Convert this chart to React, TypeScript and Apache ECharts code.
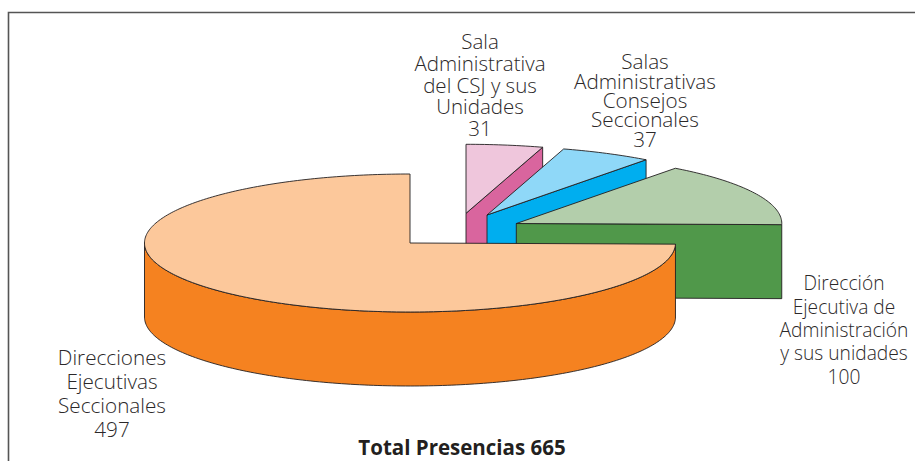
import React, { useEffect, useRef } from "react";
import * as echarts from "echarts";

const categories = [
  "Sala\nAdministrativa\ndel CSJ y sus\nUnidades",
  "Salas\nAdministrativas\nConsejos\nSeccionales",
  "Dirección\nEjecutiva de\nAdministración\ny sus unidades",
  "Direcciones\nEjecutivas\nSeccionales",
];
const values = [31, 37, 100, 497];
const totalLabel = "Total Presencias";

const topColors = ["#EFC6DC", "#8FD8F8", "#B3CEAB", "#FCC89B"];
const wallColors = ["#D9659E", "#00AEEF", "#50984A", "#F58220"];
const vertices = [
  [466, 213.3],
  [487, 215],
  [516.3, 223.5],
  [410, 243],
];
const labelPos = [
  { x: 480, y: 84.5, lh: 21.6, size: 20.5 },
  { x: 645, y: 100, lh: 19.4, size: 20.7 },
  { x: 844, y: 329.5, lh: 23.4, size: 19.2 },
  { x: 112, y: 392.5, lh: 24, size: 20.7 },
];
const RX = 265.5;
const RY = 69;
const DEPTH = 74;
const STROKE = "#231F20";
const FONT = "Open Sans";

export default function App() {
  const ref = useRef<HTMLDivElement>(null);
  useEffect(() => {
    document.body.style.margin = "0";
    const chart = echarts.init(ref.current!, null, { renderer: "svg" });
    const total = values.reduce((a, b) => a + b, 0);
    const toRad = (d: number) => (d * Math.PI) / 180;

    const renderItem = (params: any, api: any) => {
      const i = params.dataIndex;
      const before = values.slice(0, i).reduce((a, b) => a + b, 0);
      const a0 = 90 - (before / total) * 360;
      const a1 = 90 - ((before + api.value(0)) / total) * 360;
      const [cx, cy] = vertices[i];
      const pt = (a: number, dy = 0) => [
        cx + RX * Math.cos(toRad(a)),
        cy - RY * Math.sin(toRad(a)) + dy,
      ];
      const rim: number[][] = [];
      for (let a = a0; a > a1; a -= 1) rim.push(pt(a));
      rim.push(pt(a1));

      const children: any[] = [];
      const lineStyle = { stroke: STROKE, lineWidth: 0.9, lineJoin: "round" };
      if (i === 3) {
        const top: number[][] = [];
        for (let a = a0; a > -180; a -= 1) top.push(pt(a));
        top.push(pt(-180));
        const bottom = top.map((p) => [p[0], p[1] + DEPTH]).reverse();
        children.push({
          type: "polygon",
          shape: { points: [...top, ...bottom] },
          style: { fill: wallColors[i], ...lineStyle },
        });
      } else {
        const e = pt(a1);
        children.push({
          type: "polygon",
          shape: {
            points: [
              [cx, cy],
              e,
              [e[0], e[1] + DEPTH],
              [cx, cy + DEPTH],
            ],
          },
          style: { fill: wallColors[i], ...lineStyle },
        });
      }
      children.push({
        type: "polygon",
        shape: { points: [[cx, cy], ...rim] },
        style: { fill: topColors[i], ...lineStyle },
      });
      const lp = labelPos[i];
      children.push({
        type: "text",
        style: {
          text: `${categories[i]}\n${api.value(0)}`,
          x: lp.x,
          y: lp.y,
          align: "center",
          verticalAlign: "middle",
          lineHeight: lp.lh,
          fontFamily: FONT,
          fontWeight: 300,
          fontSize: lp.size,
          fill: "#2b2829",
        },
      });
      return { type: "group", children };
    };

    chart.setOption({
      animation: false,
      backgroundColor: "#ffffff",
      title: {
        text: `${totalLabel} ${total}`,
        left: 457,
        top: 431,
        textAlign: "center",
        textStyle: { fontFamily: FONT, fontSize: 20.5, fontWeight: "bold", color: "#231F20" },
      },
      graphic: [
        {
          type: "polyline",
          shape: { points: [[8.5, 461], [8.5, 12.5], [915, 12.5]] },
          style: { stroke: "#555555", fill: "none", lineWidth: 1.6 },
        },
      ],
      series: [
        {
          type: "custom",
          coordinateSystem: "none",
          renderItem,
          data: values.map((v) => [v]),
        },
      ],
    });
    return () => chart.dispose();
  }, []);
  return (
    <div
      ref={ref}
      style={{ position: "absolute", left: 0, top: 0, width: 915, height: 461 }}
    />
  );
}
